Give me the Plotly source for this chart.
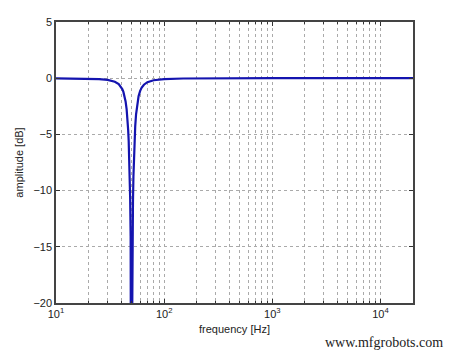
import plotly.graph_objects as go

# Data (frequency in Hz, amplitude in dB)
freq = [10, 15, 20, 25, 30, 35, 38, 40, 41, 42, 43, 44, 45, 45.5, 46, 46.5, 47, 47.5,
        48, 48.5, 49, 49.5, 49.75, 50, 50.25, 50.5, 51, 51.5, 52, 52.5, 53, 54, 55,
        56, 57, 58, 60, 62, 65, 70, 80, 100, 150, 200, 300, 500, 1000, 2000, 5000,
        10000, 20000]
amp = [-0.008, -0.02, -0.039, -0.08, -0.15, -0.315, -0.53, -0.78, -0.97, -1.22, -1.57,
       -2.07, -2.78, -3.27, -3.86, -4.62, -5.58, -6.81, -8.45, -10.7, -14.07, -20.0,
       -26.0, -60.0, -26.0, -20.1, -14.2, -10.95, -8.75, -7.16, -5.95, -4.29, -3.21,
       -2.49, -1.98, -1.61, -1.13, -0.84, -0.58, -0.354, -0.18, -0.077, -0.025, -0.012,
       -0.005, -0.002, 0.0, 0.0, 0.0, 0.0, 0.0]

x_major = [10, 100, 1000, 10000]
x_major_text = ["10<sup>1</sup>", "10<sup>2</sup>", "10<sup>3</sup>", "10<sup>4</sup>"]
x_minor = [m * d for d in (10, 100, 1000) for m in range(2, 10)]
x_minor = x_minor + [20000, 100, 1000, 10000]
y_ticks = [5, 0, -5, -10, -15, -20]

fig = go.Figure()
fig.add_trace(go.Scatter(x=freq, y=amp, mode="lines",
                         line=dict(color="rgb(20,20,175)", width=2.2),
                         hoverinfo="skip", showlegend=False))

fig.update_layout(
    width=456, height=357,
    margin=dict(l=56, r=43, t=22, b=54),
    paper_bgcolor="white", plot_bgcolor="white",
    font=dict(family="Liberation Sans, Arial, sans-serif", size=11, color="#222"),
    xaxis=dict(type="log", range=[1, 4.30103],
               tickmode="array", tickvals=x_major, ticktext=x_major_text,
               ticks="inside", ticklen=4, tickcolor="#333",
               showline=True, linecolor="#444", linewidth=1.5, mirror="ticks",
               showgrid=False, zeroline=False,
               minor=dict(tickmode="array", tickvals=x_minor, showgrid=True,
                          gridcolor="#aaaaaa", griddash="dot", gridwidth=1,
                          ticks="inside", ticklen=2, tickcolor="#333"),
               title=dict(text="frequency [Hz]", font=dict(size=11), standoff=6)),
    yaxis=dict(range=[-20, 5], tickmode="array", tickvals=y_ticks,
               ticks="inside", ticklen=4, tickcolor="#333",
               showline=True, linecolor="#444", linewidth=1.5, mirror="ticks",
               showgrid=True, gridcolor="#aaaaaa", griddash="dot", gridwidth=1,
               zeroline=False,
               title=dict(text="amplitude [dB]", font=dict(size=11), standoff=8)),
    annotations=[dict(text="www.mfgrobots.com", xref="paper", yref="paper",
                      x=1.09, y=-0.142, xanchor="right", yanchor="middle",
                      showarrow=False,
                      font=dict(family="Liberation Serif, DejaVu Serif, serif",
                                size=14, color="#222"))],
)

fig.write_html("out.html")
